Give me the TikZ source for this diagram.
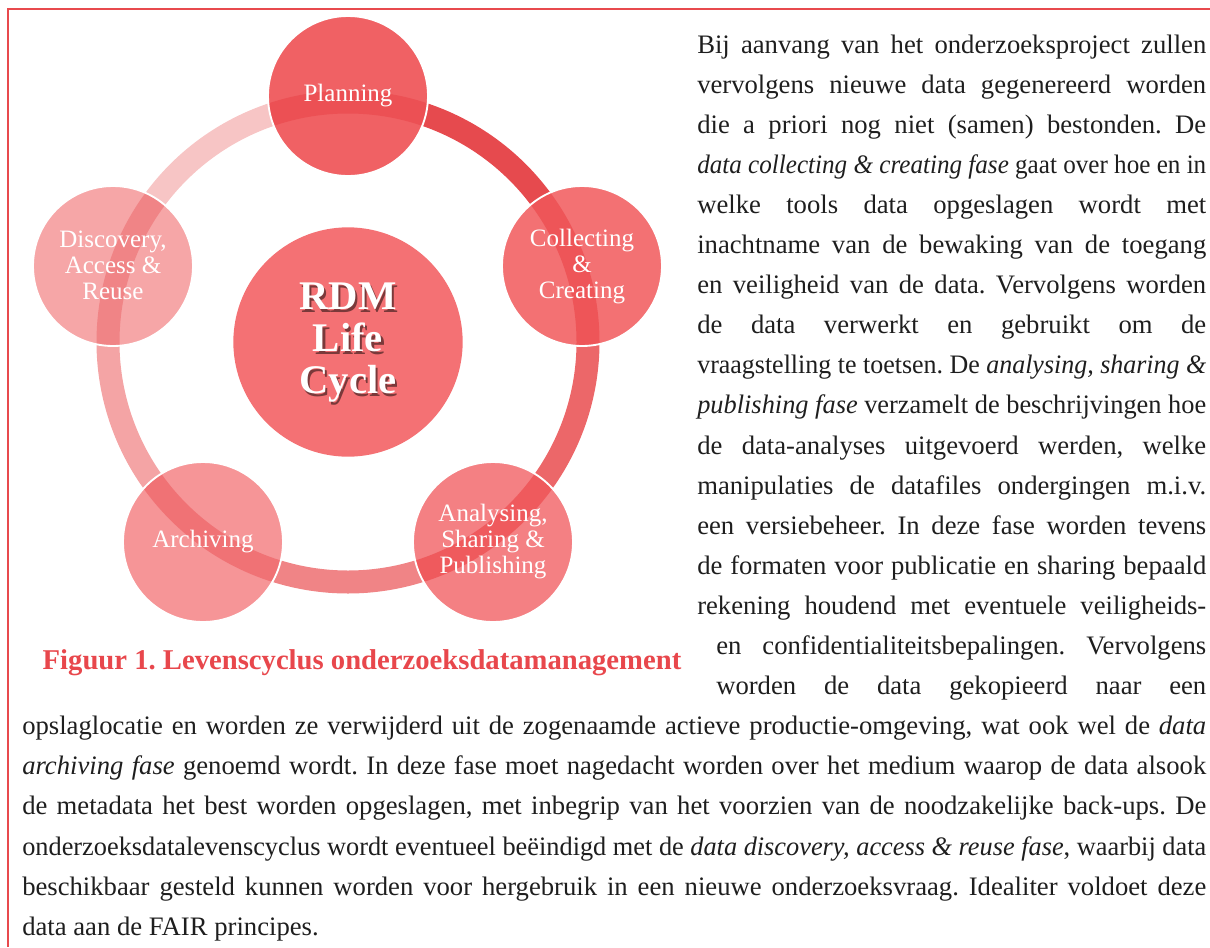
\documentclass[tikz,border=0pt]{standalone}
\usepackage{fontspec}
\setmainfont{Liberation Serif}
\usepackage{graphicx}
\hbadness=10000
\hfuzz=100pt
\frenchspacing
\definecolor{framered}{HTML}{E84A4E}
\definecolor{capred}{HTML}{E8474C}
\definecolor{bodytext}{HTML}{1E1E1E}
\definecolor{segPC}{HTML}{E64A4E}
\definecolor{segCA}{HTML}{EC6769}
\definecolor{segAA}{HTML}{F08486}
\definecolor{segAD}{HTML}{F4A4A5}
\definecolor{segDP}{HTML}{F7C5C5}
\definecolor{fillP}{HTML}{F06164}
\definecolor{fillC}{HTML}{F37173}
\definecolor{fillAn}{HTML}{F48083}
\definecolor{fillAr}{HTML}{F69597}
\definecolor{fillD}{HTML}{F6A6A7}
\definecolor{fillM}{HTML}{F47174}
\definecolor{stripP}{HTML}{EC5054}
\definecolor{stripC}{HTML}{EE5558}
\definecolor{stripAn}{HTML}{EF5A5D}
\definecolor{stripAr}{HTML}{F07275}
\definecolor{stripD}{HTML}{F08486}
\newsavebox\jlbox
\newcommand{\jl}[2]{\sbox\jlbox{#2}\ifdim\wd\jlbox>#1\relax\resizebox{#1}{\height}{\usebox\jlbox}\else\hbox to #1{#2}\fi}
\newcommand{\shd}[1]{\makebox[0pt][l]{\kern1.6pt\raisebox{-1.9pt}{\textcolor{fillM!50!black}{#1}}}#1}
\tikzset{
  ringseg/.style={line width=17.25pt},
  phasecircle/.style={circle, minimum size=120pt, inner sep=0pt, draw=none},
  phaseborder/.style={draw=white, line width=1.4pt},
  phasetext/.style={text=white, align=center, inner sep=0pt, font=\fontsize{18.75}{19.5}\selectfont},
  centertext/.style={align=center, inner sep=0pt, font=\fontsize{30.5}{31.5}\selectfont\bfseries},
  bodyline/.style={anchor=base west, inner sep=0pt, text=bodytext, font=\fontsize{20}{24}\selectfont},
  captiontext/.style={anchor=base, inner sep=0pt, text=capred, font=\fontsize{21.5}{24}\selectfont\bfseries},
  frameline/.style={draw=framered, line width=1.5pt}
}
\begin{document}
\begin{tikzpicture}[x=0.75pt, y=-0.75pt]
\useasboundingbox (0,0) rectangle (1210,947);
% frame
\coordinate (ftl) at (7.5,9);
\coordinate (ftr) at (1210,9);
\coordinate (fbl) at (7.5,947);
\draw[frameline] (ftr) -- (ftl) -- (fbl);

% ring
\coordinate (O) at (348,342);
\draw[ringseg, segPC] (O) ++(-90:240) arc[start angle=-90, end angle=-18, radius=240];
\draw[ringseg, segCA] (O) ++(-18:240) arc[start angle=-18, end angle=54, radius=240];
\draw[ringseg, segAA] (O) ++(54:240) arc[start angle=54, end angle=126, radius=240];
\draw[ringseg, segAD] (O) ++(126:240) arc[start angle=126, end angle=198, radius=240];
\draw[ringseg, segDP] (O) ++(198:240) arc[start angle=198, end angle=270, radius=240];

% phase circles
\node[phasecircle, fill=fillP]  (P)  at (348,96) {};
\node[phasecircle, fill=fillC]  (C)  at (582,266) {};
\node[phasecircle, fill=fillAn] (An) at (493,542) {};
\node[phasecircle, fill=fillAr] (Ar) at (203,542) {};
\node[phasecircle, fill=fillD]  (D)  at (113,266) {};
\node[circle, minimum size=172pt, inner sep=0pt, fill=fillM] (M) at (348,342) {};

% ring stripes seen through the circles
\begin{scope}\clip (P.center) circle[radius=80];
\draw[ringseg, stripP] (O) circle[radius=240];\end{scope}
\begin{scope}\clip (C.center) circle[radius=80];
\draw[ringseg, stripC] (O) circle[radius=240];\end{scope}
\begin{scope}\clip (An.center) circle[radius=80];
\draw[ringseg, stripAn] (O) circle[radius=240];\end{scope}
\begin{scope}\clip (Ar.center) circle[radius=80];
\draw[ringseg, stripAr] (O) circle[radius=240];\end{scope}
\begin{scope}\clip (D.center) circle[radius=80];
\draw[ringseg, stripD] (O) circle[radius=240];\end{scope}

% white borders
\draw[phaseborder] (P.center) circle[radius=80];
\draw[phaseborder] (C.center) circle[radius=80];
\draw[phaseborder] (An.center) circle[radius=80];
\draw[phaseborder] (Ar.center) circle[radius=80];
\draw[phaseborder] (D.center) circle[radius=80];

% labels
\node[phasetext] (Pt)  at (348,96) {Planning};
\node[phasetext] (Ct)  at (582,267) {Collecting\\\&\\Creating};
\node[phasetext] (Ant) at (493,542) {Analysing,\\Sharing \&\\Publishing};
\node[phasetext] (Art) at (203,542) {Archiving};
\node[phasetext] (Dt)  at (113,265) {Discovery,\\Access \&\\Reuse};
\node[centertext, text=white] (Mt) at (348,344) {\shd{RDM}\\\shd{Life}\\\shd{Cycle}};

% caption
\node[captiontext] (cap) at (362,669) {Figuur 1. Levenscyclus onderzoeksdatamanagement};

% body text
\node[bodyline] (l1)  at (697,53)    {\jl{381.75pt}{Bij aanvang van het onderzoeksproject zullen}};
\node[bodyline] (l2)  at (697,93.1)  {\jl{381.75pt}{vervolgens nieuwe data gegenereerd worden}};
\node[bodyline] (l3)  at (697,133.2) {\jl{381.75pt}{die a priori nog niet (samen) bestonden. De}};
\node[bodyline] (l4)  at (697,173.3) {\jl{381.75pt}{\textit{data collecting \& creating fase} gaat over hoe en in}};
\node[bodyline] (l5)  at (697,213.4) {\jl{381.75pt}{welke tools data opgeslagen wordt met}};
\node[bodyline] (l6)  at (697,253.5) {\jl{381.75pt}{inachtname van de bewaking van de toegang}};
\node[bodyline] (l7)  at (697,293.6) {\jl{381.75pt}{en veiligheid van de data. Vervolgens worden}};
\node[bodyline] (l8)  at (697,333.7) {\jl{381.75pt}{de data verwerkt en gebruikt om de}};
\node[bodyline] (l9)  at (697,373.8) {\jl{381.75pt}{vraagstelling te toetsen. De \textit{analysing, sharing \&}}};
\node[bodyline] (l10) at (697,413.9) {\jl{381.75pt}{\textit{publishing fase} verzamelt de beschrijvingen hoe}};
\node[bodyline] (l11) at (697,454)   {\jl{381.75pt}{de data-analyses uitgevoerd werden, welke}};
\node[bodyline] (l12) at (697,494.1) {\jl{381.75pt}{manipulaties de datafiles ondergingen m.i.v.}};
\node[bodyline] (l13) at (697,534.2) {\jl{381.75pt}{een versiebeheer. In deze fase worden tevens}};
\node[bodyline] (l14) at (697,574.3) {\jl{381.75pt}{de formaten voor publicatie en sharing bepaald}};
\node[bodyline] (l15) at (697,614.4) {\jl{381.75pt}{rekening houdend met eventuele veiligheids-}};
\node[bodyline] (l16) at (716,654.5) {\jl{367.5pt}{en confidentialiteitsbepalingen. Vervolgens}};
\node[bodyline] (l17) at (716,694.6) {\jl{367.5pt}{worden de data gekopieerd naar een}};
\node[bodyline] (l18) at (22,734.7)  {\jl{888pt}{opslaglocatie en worden ze verwijderd uit de zogenaamde actieve productie-omgeving, wat ook wel de \textit{data}}};
\node[bodyline] (l19) at (22,774.8)  {\jl{888pt}{\textit{archiving fase} genoemd wordt. In deze fase moet nagedacht worden over het medium waarop de data alsook}};
\node[bodyline] (l20) at (22,814.9)  {\jl{888pt}{de metadata het best worden opgeslagen, met inbegrip van het voorzien van de noodzakelijke back-ups. De}};
\node[bodyline] (l21) at (22,855)    {\jl{888pt}{onderzoeksdatalevenscyclus wordt eventueel beëindigd met de \textit{data discovery, access \& reuse fase}, waarbij data}};
\node[bodyline] (l22) at (22,895.1)  {\jl{888pt}{beschikbaar gesteld kunnen worden voor hergebruik in een nieuwe onderzoeksvraag. Idealiter voldoet deze}};
\node[bodyline] (l23) at (22,935.2)  {data aan de FAIR principes.};
\end{tikzpicture}
\end{document}
